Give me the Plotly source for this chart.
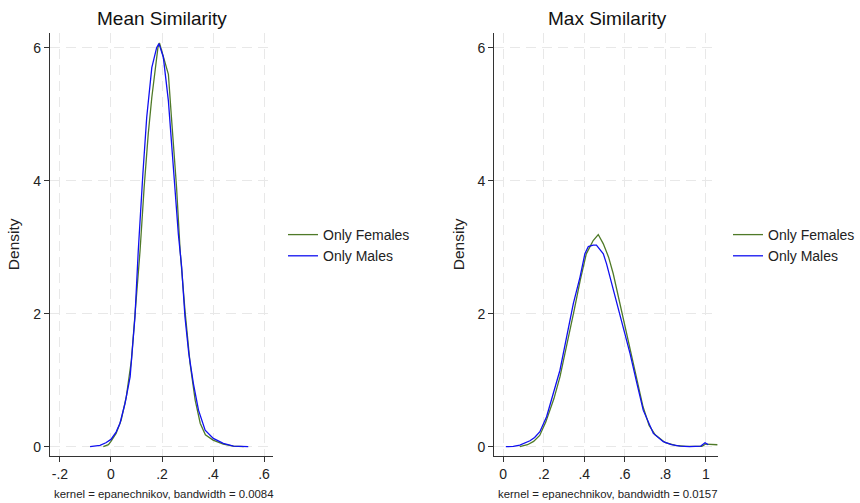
import plotly.graph_objects as go

# ---- data ----
mean_fem_x = [-0.03, -0.01, 0.0, 0.02, 0.04, 0.06, 0.08, 0.10, 0.114, 0.13, 0.146, 0.16, 0.173, 0.184, 0.19,
              0.205, 0.225, 0.237, 0.257, 0.271, 0.29, 0.31, 0.33, 0.35, 0.37, 0.40, 0.44, 0.48, 0.52]
mean_fem_y = [0.0, 0.03, 0.08, 0.2, 0.4, 0.75, 1.3, 2.2, 2.95, 3.9, 4.7, 5.25, 5.65, 6.0, 6.07,
              5.88, 5.6, 4.95, 3.9, 2.95, 2.05, 1.25, 0.7, 0.35, 0.18, 0.1, 0.04, 0.01, 0.0]

mean_mal_x = [-0.082, -0.06, -0.043, -0.02, 0.0, 0.02, 0.035, 0.055, 0.075, 0.094, 0.107, 0.125, 0.14, 0.16,
              0.179, 0.188, 0.205, 0.225, 0.244, 0.264, 0.277, 0.29, 0.305, 0.323, 0.343, 0.369, 0.401,
              0.44, 0.48, 0.538]
mean_mal_y = [0.0, 0.005, 0.02, 0.06, 0.11, 0.22, 0.35, 0.65, 1.05, 1.95, 2.95, 4.1, 4.95, 5.7,
              6.0, 6.06, 5.86, 5.2, 4.2, 3.2, 2.7, 1.95, 1.4, 0.95, 0.55, 0.25, 0.125,
              0.05, 0.01, 0.0]

max_fem_x = [0.082, 0.12, 0.15, 0.18, 0.21, 0.25, 0.28, 0.32, 0.35, 0.38, 0.41, 0.444, 0.469, 0.494, 0.52,
             0.543, 0.58, 0.617, 0.65, 0.69, 0.72, 0.75, 0.8, 0.85, 0.9, 0.95, 0.98, 1.0, 1.03, 1.057]
max_fem_y = [0.0, 0.03, 0.08, 0.17, 0.37, 0.72, 1.05, 1.6, 2.05, 2.5, 2.9, 3.1, 3.19, 3.05, 2.85,
             2.6, 2.1, 1.6, 1.15, 0.6, 0.32, 0.18, 0.06, 0.02, 0.005, 0.0, 0.005, 0.04, 0.04, 0.03]

max_mal_x = [0.013, 0.05, 0.082, 0.11, 0.132, 0.155, 0.181, 0.214, 0.247, 0.28, 0.313, 0.346, 0.379, 0.403,
             0.42, 0.444, 0.46, 0.477, 0.494, 0.51, 0.527, 0.56, 0.6, 0.626, 0.66, 0.691, 0.741, 0.79,
             0.83, 0.873, 0.92, 0.955, 0.975, 0.996, 1.012]
max_mal_y = [0.0, 0.005, 0.025, 0.055, 0.09, 0.14, 0.225, 0.45, 0.8, 1.15, 1.65, 2.15, 2.55, 2.9,
             3.01, 3.03, 3.03, 2.96, 2.9, 2.75, 2.55, 2.15, 1.7, 1.4, 0.95, 0.55, 0.2, 0.075,
             0.03, 0.01, 0.0, 0.0, 0.01, 0.06, 0.03]

series_names = ["Only Females", "Only Males"]
panel_titles = ["Mean Similarity", "Max Similarity"]
notes = ["kernel = epanechnikov, bandwidth = 0.0084", "kernel = epanechnikov, bandwidth = 0.0157"]

mean_xticks = [-0.2, 0.0, 0.2, 0.4, 0.6]
mean_xticklabels = ["-.2", "0", ".2", ".4", ".6"]
max_xticks = [0.0, 0.2, 0.4, 0.6, 0.8, 1.0]
max_xticklabels = ["0", ".2", ".4", ".6", ".8", "1"]
yticks = [0, 2, 4, 6]
yticklabels = ["0", "2", "4", "6"]

GREEN = "#4f7a28"
BLUE = "#1010f0"
W, H = 860, 503
FONT = "Liberation Sans, Arial, sans-serif"

fig = go.Figure()
fig.add_trace(go.Scatter(x=mean_fem_x, y=mean_fem_y, mode="lines", name=series_names[0],
                         line=dict(color=GREEN, width=1.3), xaxis="x", yaxis="y", legend="legend"))
fig.add_trace(go.Scatter(x=mean_mal_x, y=mean_mal_y, mode="lines", name=series_names[1],
                         line=dict(color=BLUE, width=1.3), xaxis="x", yaxis="y", legend="legend"))
fig.add_trace(go.Scatter(x=max_fem_x, y=max_fem_y, mode="lines", name=series_names[0],
                         line=dict(color=GREEN, width=1.3), xaxis="x2", yaxis="y2", legend="legend2"))
fig.add_trace(go.Scatter(x=max_mal_x, y=max_mal_y, mode="lines", name=series_names[1],
                         line=dict(color=BLUE, width=1.3), xaxis="x2", yaxis="y2", legend="legend2"))

ydom = [1 - 455.7 / H, 1 - 33 / H]
common_ax = dict(showline=True, linecolor="#333333", linewidth=1.2, ticks="outside", ticklen=5,
                 tickcolor="#333333", showgrid=True, gridcolor="#e8e8e8", griddash="10px,6px",
                 gridwidth=1, zeroline=False, tickfont=dict(size=14, color="#222222", family=FONT))

fig.update_layout(
    width=W, height=H, margin=dict(l=0, r=0, t=0, b=0),
    paper_bgcolor="white", plot_bgcolor="white",
    font=dict(family=FONT, color="#222222"),
    xaxis=dict(domain=[50 / W, 273 / W], range=[-0.239, 0.635], tickvals=mean_xticks,
               ticktext=mean_xticklabels, anchor="y", **common_ax),
    yaxis=dict(domain=ydom, range=[-0.135, 6.22], tickvals=yticks, ticktext=yticklabels,
               anchor="x", title=dict(text="Density", font=dict(size=15.5), standoff=9), **common_ax),
    xaxis2=dict(domain=[494.3 / W, 718 / W], range=[-0.044, 1.06], tickvals=max_xticks,
                ticktext=max_xticklabels, anchor="y2", **common_ax),
    yaxis2=dict(domain=ydom, range=[-0.135, 6.22], tickvals=yticks, ticktext=yticklabels,
                anchor="x2", title=dict(text="Density", font=dict(size=15.5), standoff=9), **common_ax),
    legend=dict(x=283 / W, y=1 - 219 / H, xanchor="left", yanchor="top",
                font=dict(size=14, family=FONT, color="#222222"), bgcolor="rgba(0,0,0,0)",
                tracegroupgap=0),
    legend2=dict(x=728 / W, y=1 - 219 / H, xanchor="left", yanchor="top",
                 font=dict(size=14, family=FONT, color="#222222"), bgcolor="rgba(0,0,0,0)",
                 tracegroupgap=0),
    showlegend=True,
)

annotations = [
    dict(text=panel_titles[0], x=162 / W, y=1 - 18 / H, xref="paper", yref="paper",
         showarrow=False, font=dict(size=19, family=FONT, color="#111111"), xanchor="center", yanchor="middle"),
    dict(text=panel_titles[1], x=607 / W, y=1 - 18 / H, xref="paper", yref="paper",
         showarrow=False, font=dict(size=19, family=FONT, color="#111111"), xanchor="center", yanchor="middle"),
    dict(text=notes[0], x=52 / W, y=1 - 494 / H, xref="paper", yref="paper",
         showarrow=False, font=dict(size=11.4, family=FONT, color="#222222"), xanchor="left", yanchor="middle"),
    dict(text=notes[1], x=496 / W, y=1 - 494 / H, xref="paper", yref="paper",
         showarrow=False, font=dict(size=11.4, family=FONT, color="#222222"), xanchor="left", yanchor="middle"),
]
fig.update_layout(annotations=annotations)

fig.write_html("out.html", config={"displayModeBar": False},
               post_script="document.body.style.margin='0';")
